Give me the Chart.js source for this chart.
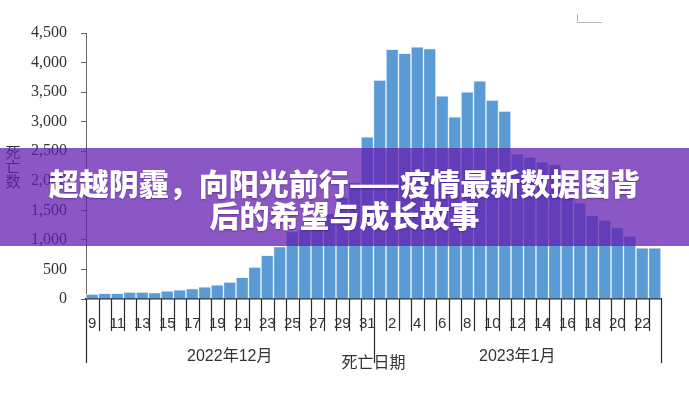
<!DOCTYPE html>
<html>
<head>
<meta charset="utf-8">
<script src="https://cdn.jsdelivr.net/npm/chart.js@4/dist/chart.umd.min.js"></script>
<style>
  html, body { margin: 0; padding: 0; background: #fff; }
  #wrap { position: relative; width: 689px; height: 395px; overflow: hidden; }
  #banner {
    position: absolute; left: 0; top: 148px; width: 689px; height: 98px;
    background: rgba(100, 31, 176, 0.75);
    color: #fff; text-align: center;
    font-family: "Noto Sans CJK SC", sans-serif; font-weight: 900;
    font-size: 30px; line-height: 32px; padding-top: 18px; box-sizing: border-box;
    text-shadow: 0 1px 2px rgba(40, 0, 80, 0.4);
  }
</style>
</head>
<body>
<div id="wrap">
  <canvas id="c" width="689" height="395"></canvas>
  <div id="banner">超越阴霾，向阳光前行——疫情最新数据图背<br>后的希望与成长故事</div>
</div>
<script>
// one bar per day, 2022-12-09 .. 2023-01-23
const categories = [
  '12-09','12-10','12-11','12-12','12-13','12-14','12-15','12-16','12-17','12-18','12-19','12-20',
  '12-21','12-22','12-23','12-24','12-25','12-26','12-27','12-28','12-29','12-30','12-31',
  '01-01','01-02','01-03','01-04','01-05','01-06','01-07','01-08','01-09','01-10','01-11','01-12',
  '01-13','01-14','01-15','01-16','01-17','01-18','01-19','01-20','01-21','01-22','01-23'
];
const deaths = [
  85, 95, 95, 115, 115, 110, 140, 155, 175, 205, 240, 285,
  365, 540, 740, 885, 1140, 1170, 1230, 1450, 1720, 1970, 2745,
  3702, 4222, 4154, 4267, 4238, 3438, 3083, 3506, 3692, 3364, 3178, 2455,
  2400, 2320, 2280, 1717, 1630, 1415, 1333, 1210, 1063, 866, 866
];
// day labels under the axis ('' = no label)
const dayLabels = [
  '9','','11','','13','','15','','17','','19','',
  '21','','23','','25','','27','','29','','31',
  '','2','','4','','6','','8','','10','','12','',
  '14','','16','','18','','20','','22',''
];
const monthLabels = ['2022年12月', '2023年1月'];
const monthStart = [0, 23];   // first category index of each month
const yTitle = '死亡数';
const xTitle = '死亡日期';

const customAxis = {
  id: 'customAxis',
  afterDraw(chart) {
    const ctx = chart.ctx;
    const x = chart.scales.x;
    const base = chart.chartArea.bottom;
    const step = x.getPixelForValue(1) - x.getPixelForValue(0);
    const n = categories.length;
    const edge = i => x.getPixelForValue(0) - step / 2 + i * step;
    const bounds = monthStart.concat([n]);

    ctx.save();
    ctx.strokeStyle = '#2a2a2a';
    ctx.lineWidth = 1.2;
    for (let i = 0; i <= n; i++) {
      const px = Math.round(edge(i)) + 0.5;
      const long = bounds.includes(i);
      ctx.beginPath();
      ctx.moveTo(px, base);
      ctx.lineTo(px, long ? base + 64 : base + 32);
      ctx.stroke();
    }

    ctx.fillStyle = '#333';
    ctx.textAlign = 'center';
    ctx.textBaseline = 'middle';
    ctx.font = '15px "Liberation Sans", sans-serif';
    dayLabels.forEach((t, i) => {
      if (t) ctx.fillText(t, x.getPixelForValue(i), base + 25);
    });

    ctx.font = '16px "Liberation Sans", "Noto Sans CJK SC", sans-serif';
    monthLabels.forEach((t, k) => {
      const mid = (edge(bounds[k]) + edge(bounds[k + 1])) / 2;
      ctx.fillText(t, mid, base + 58);
    });

    ctx.font = '16px "Liberation Serif", "Noto Sans CJK SC", serif';
    ctx.fillText(xTitle, (edge(0) + edge(n)) / 2, base + 65);

    // y axis title, stacked characters
    ctx.font = '15px "Liberation Serif", "Noto Sans CJK SC", serif';
    [...yTitle].forEach((ch, k) => ctx.fillText(ch, 13, 154 + k * 14.5));

    // faint frame corner top right
    ctx.strokeStyle = '#b8b8b8';
    ctx.lineWidth = 1;
    ctx.beginPath();
    ctx.moveTo(577.5, 14);
    ctx.lineTo(577.5, 22.5);
    ctx.lineTo(602, 22.5);
    ctx.stroke();
    ctx.restore();
  }
};

new Chart(document.getElementById('c'), {
  type: 'bar',
  data: {
    labels: categories,
    datasets: [{
      data: deaths,
      backgroundColor: '#5b9bd5',
      borderColor: 'rgba(230, 242, 252, 0.85)',
      borderWidth: 1,
      barPercentage: 1,
      categoryPercentage: 1
    }]
  },
  options: {
    responsive: false,
    animation: false,
    layout: { padding: { left: 0, right: 28, top: 33, bottom: 0 } },
    plugins: { legend: { display: false }, tooltip: { enabled: false } },
    scales: {
      x: {
        ticks: { display: false },
        grid: { display: false },
        border: { display: true, color: '#2a2a2a', width: 1.5 },
        afterFit(s) { s.height = 96; }
      },
      y: {
        min: 0, max: 4500,
        ticks: {
          stepSize: 500, padding: 14, color: '#333',
          font: { family: '"Liberation Serif", serif', size: 16 },
          callback: v => v.toLocaleString('en-US')
        },
        grid: { drawOnChartArea: false, drawTicks: true, tickLength: 5, color: '#666' },
        border: { display: true, color: '#666', width: 1 },
        afterFit(s) { s.width = 86; }
      }
    }
  },
  plugins: [customAxis]
});
</script>
</body>
</html>
